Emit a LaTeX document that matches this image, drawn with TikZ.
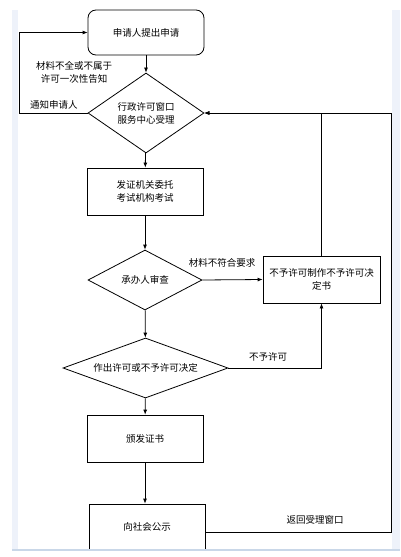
\documentclass[tikz,border=0pt]{standalone}
\usepackage{fontspec}
\setmainfont{Noto Sans CJK SC}
\usepackage{xcolor}
\usepackage{tikz}
\usetikzlibrary{arrows.meta, positioning, shapes.geometric, calc}

\definecolor{frameblue}{HTML}{EEF2FA}
\definecolor{edgeblue}{HTML}{C9D7E8}

\begin{document}
\begin{tikzpicture}[
      x=1pt, y=-1pt,
      line width=0.8pt,
      every node/.style={font=\fontsize{9.5}{13}\selectfont, align=center},
      box/.style={rectangle, draw, minimum width=116pt, minimum height=47pt},
      dia/.style={diamond, draw, inner sep=0pt, aspect=1.45, minimum width=116pt, minimum height=80pt},
      flow/.style={-{Latex[length=5pt,width=4pt]}},
      lbl/.style={inner sep=1pt}
    ]
      \useasboundingbox (0,0) rectangle (400,557);
      % frame of the screenshot
      \fill[frameblue] (12,10) rectangle (18,550);
      \fill[frameblue] (392,10) rectangle (400,550);

      \node[box, rounded corners=8pt, minimum height=45pt] (start) at (146,32.5) {申请人提出申请};
      \node[dia] (accept) at (146,113) {行政许可窗口\\服务中心受理};
      \node[box] (exam) at (145,191.5) {发证机关委托\\考试机构考试};
      \node[dia, aspect=1.9, minimum width=114pt, minimum height=60pt] (review) at (145,280) {承办人审查};
      \node[box, minimum width=117pt] (refuse) at (321.5,279.5) {不予许可制作不予许可决\\定书};
      \node[dia, aspect=2.75, minimum width=165pt, minimum height=60pt] (decide) at (145.5,368) {作出许可或不予许可决定};
      \node[box] (issue) at (145,438.5) {颁发证书};
      \node[box, minimum height=46pt] (publish) at (147,527) {向社会公示};

      \coordinate (lft) at (19,113);
      \coordinate (rgt) at (391.5,532);

      \draw[flow] (start) -- (accept);
      \draw[flow] (accept.west) -- (lft) |- (start.west);
      \draw[flow] (accept) -- (exam);
      \draw[flow] (exam) -- (review);
      \draw[flow] (review.east) -- (refuse.west);
      \draw[flow] (refuse.north) |- (accept.east);
      \draw[flow] (review) -- (decide);
      \draw[flow] (decide.east) -| (refuse.south);
      \draw[flow] (decide) -- (issue);
      \draw[flow] (issue.south) -- (issue.south |- publish.north);
      \draw[flow] ([yshift=-5pt]publish.east) -- (rgt) |- (accept.east);

      \node[lbl] (lackinfo) at (74,72) {材料不全或不属于\\许可一次性告知};
      \node[lbl] (notify) at (54,105) {通知申请人};
      \node[lbl] (notmet) at (222,263) {材料不符合要求};
      \node[lbl] (nopermit) at (268,357) {不予许可};
      \node[lbl] (back) at (315,520) {返回受理窗口};

      \draw[edgeblue, line width=2pt] (12,550) -- (400,550);
      \fill[white] (0,551) rectangle (400,557);
    \end{tikzpicture}
\end{document}
